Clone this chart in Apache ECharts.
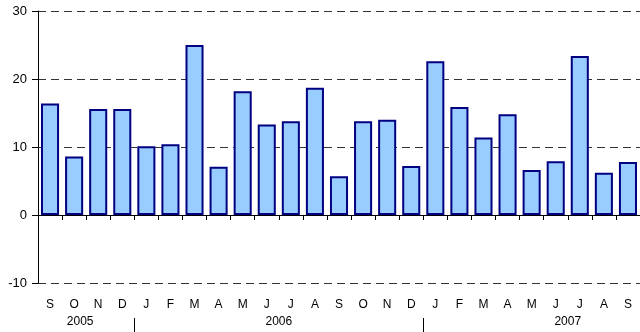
<!DOCTYPE html>
<html>
<head>
<meta charset="utf-8">
<script src="https://cdn.jsdelivr.net/npm/echarts@6/dist/echarts.min.js"></script>
<style>
  html, body { margin: 0; padding: 0; background: #fff; }
  #chart { width: 640px; height: 332px; }
</style>
</head>
<body>
<div id="chart"></div>
<script>
// Monthly values, Sep 2005 – Sep 2007
const months = ['S','O','N','D','J','F','M','A','M','J','J','A','S','O','N','D','J','F','M','A','M','J','J','A','S'];
const values = [16.4, 8.6, 15.6, 15.6, 10.1, 10.4, 25.0, 7.1, 18.2, 13.3, 13.8, 18.7, 5.7, 13.8, 14.0, 7.2, 22.6, 15.9, 11.4, 14.8, 6.6, 7.9, 23.4, 6.2, 7.8];
const years = ['2005', '2006', '2007'];
const monthsPerYear = [4, 12, 9];
const yearLabelAt = [1.75, 10, 22];   // in month units along the axis
const yTicks = [-10, 0, 10, 20, 30];

// indices where a new year starts (separator ticks)
const yearStarts = [];
let acc = 0;
monthsPerYear.forEach((n, i) => { if (i > 0) yearStarts.push(acc); acc += n; });

const font = 'Liberation Sans, Arial, sans-serif';
const chart = echarts.init(document.getElementById('chart'));

chart.setOption({
  animation: false,
  grid: { left: 38, right: -2, top: 11, bottom: 49, containLabel: false },
  yAxis: {
    type: 'value',
    min: yTicks[0], max: yTicks[yTicks.length - 1], interval: 10,
    axisLine: { show: true, lineStyle: { color: '#000', width: 1 } },
    axisTick: { show: true, length: 6, lineStyle: { color: '#000' } },
    axisLabel: { color: '#000', fontSize: 13, fontFamily: font, margin: 11 },
    splitLine: { show: true, lineStyle: { color: '#333', type: [8, 5], width: 1 } }
  },
  xAxis: [
    {
      // axis line through zero with boundary ticks
      type: 'category', data: months,
      axisLine: { show: true, onZero: true, lineStyle: { color: '#000', width: 1 } },
      axisTick: { show: true, length: 5, lineStyle: { color: '#000' } },
      axisLabel: { show: false },
      splitLine: { show: false }
    },
    {
      // month letters along the bottom
      type: 'category', data: months, position: 'bottom',
      axisLine: { show: false, onZero: false },
      axisTick: { show: false },
      axisLabel: { color: '#000', fontSize: 12, fontFamily: font, margin: 16, interval: 0 },
      splitLine: { show: false }
    },
    {
      // year captions
      type: 'value', min: 0, max: months.length, position: 'bottom',
      axisLine: { show: false, onZero: false },
      axisTick: { show: false },
      splitLine: { show: false },
      axisLabel: {
        color: '#000', fontSize: 12, fontFamily: font, margin: 33,
        customValues: yearLabelAt,
        formatter: v => {
          const i = yearLabelAt.findIndex(p => Math.abs(p - v) < 1e-6);
          return i >= 0 ? years[i] : '';
        }
      }
    },
    {
      // separators between years
      type: 'value', min: 0, max: months.length, position: 'bottom', offset: 35,
      axisLine: { show: false, onZero: false },
      axisTick: { show: true, length: 14, lineStyle: { color: '#000' }, customValues: yearStarts },
      axisLabel: { show: false },
      splitLine: { show: false }
    }
  ],
  series: [{
    type: 'bar',
    xAxisIndex: 0,
    data: values,
    barWidth: '75%',
    itemStyle: { color: '#99CCFF', borderColor: '#000080', borderWidth: 2 }
  }]
});
</script>
</body>
</html>
